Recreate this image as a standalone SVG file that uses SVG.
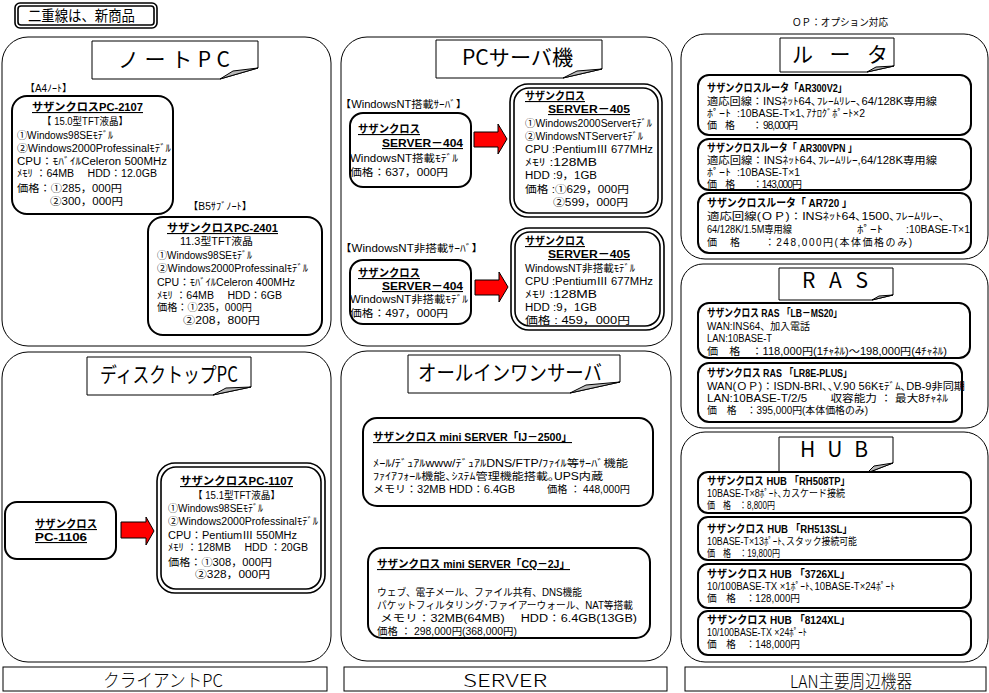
<svg xmlns="http://www.w3.org/2000/svg" width="989" height="693" viewBox="0 0 989 693">
<style>
text{font-family:"Noto Sans CJK JP","Noto Sans CJK SC",sans-serif;fill:#000}
.s{font-family:"Liberation Sans","Noto Sans CJK JP",sans-serif;font-size:10px}
.xs{font-family:"Liberation Sans","Noto Sans CJK JP",sans-serif;font-size:10px}
.bu{font-family:"Liberation Sans","Noto Sans CJK JP",sans-serif;font-size:11px;font-weight:bold;text-decoration:underline}
.bt{font-family:"Liberation Sans","Noto Sans CJK JP",sans-serif;font-size:11px;font-weight:bold}
.ttl{font-size:21px}
.ft{font-size:18px;font-weight:300}
.sec{fill:#fff;stroke:#000;stroke-width:1}
.node{fill:#fff;stroke:#000;stroke-width:2}
.dbl{fill:none;stroke:#000;stroke-width:1.6}
.call{fill:#fff;stroke:#000;stroke-width:1}
.fold{fill:#b8b8b8;stroke:#000;stroke-width:1}
.box{fill:#fff;stroke:#000;stroke-width:1}
.arrow{fill:#f00;stroke:#000;stroke-width:1}
</style>
<rect width="989" height="693" fill="#fff"/>

<g id="legend">
<rect class="dbl" x="15" y="3" width="142" height="25" rx="5"/>
<rect class="dbl" x="18" y="6" width="136" height="19" rx="3"/>
<text x="28" y="21" style="font-size:15px" textLength="107" lengthAdjust="spacingAndGlyphs">二重線は、新商品</text>
</g>

<!-- ===== Client PC column ===== -->
<g id="sec-note">
<rect class="sec" x="2" y="37" width="329" height="309" rx="26"/>
<path class="call" d="M92,41 H258 V68 L220,79 H92 Z"/>
<path class="fold" d="M220,79 L233,71 L258,68 Z"/>
<text class="ttl" x="118" y="67" textLength="112" lengthAdjust="spacing">ノートPC</text>
</g>

<g id="label-a4"><text class="s" x="25" y="92" textLength="47" lengthAdjust="spacingAndGlyphs">【A4ﾉｰﾄ】</text></g>
<g id="node-pc2107">
<rect class="node" x="12" y="96" width="161" height="118" rx="15"/>
<text class="bu" x="32" y="111" textLength="111" lengthAdjust="spacingAndGlyphs">サザンクロスPC-2107</text>
<text class="s" x="42" y="125" textLength="86" lengthAdjust="spacingAndGlyphs">【 15.0型TFT液晶】</text>
<text class="s" x="17" y="139" textLength="96" lengthAdjust="spacingAndGlyphs">①Windows98SEﾓﾃﾞﾙ</text>
<text class="s" x="17" y="152" textLength="154" lengthAdjust="spacingAndGlyphs">②Windows2000Professinalﾓﾃﾞﾙ</text>
<text class="s" x="17" y="165" textLength="150" lengthAdjust="spacingAndGlyphs">CPU：ﾓﾊﾞｲﾙCeleron 500MHz</text>
<text class="s" x="17" y="177" textLength="140" lengthAdjust="spacingAndGlyphs">ﾒﾓﾘ ：64MB　 HDD：12.0GB</text>
<text class="s" x="17" y="192" textLength="105" lengthAdjust="spacingAndGlyphs">価格：①285，000円</text>
<text class="s" x="50" y="205" textLength="73" lengthAdjust="spacingAndGlyphs">②300，000円</text>
</g>

<g id="label-b5"><text class="s" x="188" y="210" textLength="64" lengthAdjust="spacingAndGlyphs">【B5ｻﾌﾞﾉｰﾄ】</text></g>
<g id="node-pc2401">
<rect class="node" x="148" y="217" width="174" height="118" rx="15"/>
<text class="bu" x="167" y="232" textLength="111" lengthAdjust="spacingAndGlyphs">サザンクロスPC-2401</text>
<text class="s" x="180" y="245" textLength="73" lengthAdjust="spacingAndGlyphs">11.3型TFT液晶</text>
<text class="s" x="157" y="259" textLength="95" lengthAdjust="spacingAndGlyphs">①Windows98SEﾓﾃﾞﾙ</text>
<text class="s" x="157" y="272" textLength="151" lengthAdjust="spacingAndGlyphs">②Windows2000Professinalﾓﾃﾞﾙ</text>
<text class="s" x="157" y="286" textLength="138" lengthAdjust="spacingAndGlyphs">CPU：ﾓﾊﾞｲﾙCeleron 400MHz</text>
<text class="s" x="157" y="299" textLength="125" lengthAdjust="spacingAndGlyphs">ﾒﾓﾘ ：64MB　 HDD：6GB</text>
<text class="s" x="157" y="311" textLength="95" lengthAdjust="spacingAndGlyphs">価格：①235，000円</text>
<text class="s" x="183" y="324" textLength="77" lengthAdjust="spacingAndGlyphs">②208，800円</text>
</g>

<g id="sec-desktop">
<rect class="sec" x="2" y="352" width="329" height="310" rx="26"/>
<path class="call" d="M87,357 H251 V387 L213,395 H87 Z"/>
<path class="fold" d="M213,395 L226,388 L251,387 Z"/>
<text class="ttl" x="100" y="382" textLength="138" lengthAdjust="spacingAndGlyphs">ディスクトップPC</text>
</g>

<g id="node-pc1106">
<rect class="node" x="5" y="502" width="111" height="57" rx="12"/>
<text class="bu" x="35" y="528" textLength="62" lengthAdjust="spacingAndGlyphs">サザンクロス</text>
<text class="bu" x="35" y="541" textLength="52" lengthAdjust="spacingAndGlyphs">PC-1106</text>
</g>

<g id="node-pc1107">
<rect class="dbl" x="157" y="463" width="168" height="130" rx="18"/>
<rect class="dbl" x="161" y="467" width="160" height="122" rx="15"/>
<text class="bu" x="180" y="485" textLength="113" lengthAdjust="spacingAndGlyphs">サザンクロスPC-1107</text>
<text class="s" x="193" y="499" textLength="87" lengthAdjust="spacingAndGlyphs">【 15.1型TFT液晶】</text>
<text class="s" x="168" y="512" textLength="95" lengthAdjust="spacingAndGlyphs">①Windows98SEﾓﾃﾞﾙ</text>
<text class="s" x="168" y="525" textLength="150" lengthAdjust="spacingAndGlyphs">②Windows2000Professinalﾓﾃﾞﾙ</text>
<text class="s" x="168" y="539" textLength="129" lengthAdjust="spacingAndGlyphs">CPU：PentiumⅢ 550MHz</text>
<text class="s" x="168" y="551" textLength="140" lengthAdjust="spacingAndGlyphs">ﾒﾓﾘ ：128MB　 HDD ：20GB</text>
<text class="s" x="168" y="566" textLength="104" lengthAdjust="spacingAndGlyphs">価格：①308，000円</text>
<text class="s" x="195" y="578" textLength="75" lengthAdjust="spacingAndGlyphs">②328，000円</text>
</g>

<g id="footer-client">
<rect class="box" x="3" y="667" width="324" height="24"/>
<text class="ft" x="103" y="687" textLength="120" lengthAdjust="spacingAndGlyphs">クライアントPC</text>
</g>

<!-- ===== Server column ===== -->
<g id="sec-pcserver">
<rect class="sec" x="341" y="37" width="331" height="309" rx="26"/>
<path class="call" d="M436,40 H602 V69 L563,78 H436 Z"/>
<path class="fold" d="M563,78 L577,71 L602,69 Z"/>
<text class="ttl" x="462" y="65" textLength="111" lengthAdjust="spacingAndGlyphs">PCサーバ機</text>
</g>

<g id="label-nt"><text class="s" x="340" y="108" textLength="127" lengthAdjust="spacingAndGlyphs">【WindowsNT搭載ｻｰﾊﾞ】</text></g>
<g id="node-server404a">
<rect class="node" x="350" y="113" width="121" height="74" rx="13"/>
<text class="bu" x="358" y="133" textLength="62" lengthAdjust="spacingAndGlyphs">サザンクロス</text>
<text class="bu" x="382" y="147" textLength="81" lengthAdjust="spacingAndGlyphs">SERVER－404</text>
<text class="s" x="350" y="162" textLength="108" lengthAdjust="spacingAndGlyphs">WindowsNT搭載ﾓﾃﾞﾙ</text>
<text class="s" x="350" y="176" textLength="98" lengthAdjust="spacingAndGlyphs">価格：637，000円</text>
</g>
<g id="node-server405a">
<rect class="dbl" x="510" y="84" width="152" height="133" rx="18"/>
<rect class="dbl" x="514" y="88" width="144" height="125" rx="15"/>
<text class="bu" x="525" y="100" textLength="60" lengthAdjust="spacingAndGlyphs">サザンクロス</text>
<text class="bu" x="548" y="113" textLength="82" lengthAdjust="spacingAndGlyphs">SERVER－405</text>
<text class="s" x="525" y="127" textLength="127" lengthAdjust="spacingAndGlyphs">①Windows2000Serverﾓﾃﾞﾙ</text>
<text class="s" x="525" y="140" textLength="118" lengthAdjust="spacingAndGlyphs">②WindowsNTServerﾓﾃﾞﾙ</text>
<text class="s" x="525" y="153" textLength="128" lengthAdjust="spacingAndGlyphs">CPU :PentiumⅢ 677MHz</text>
<text class="s" x="525" y="166" textLength="72" lengthAdjust="spacingAndGlyphs">ﾒﾓﾘ :128MB</text>
<text class="s" x="525" y="179" textLength="72" lengthAdjust="spacingAndGlyphs">HDD :9，1GB</text>
<text class="s" x="525" y="193" textLength="104" lengthAdjust="spacingAndGlyphs">価格 :①629，000円</text>
<text class="s" x="553" y="206" textLength="75" lengthAdjust="spacingAndGlyphs">②599，000円</text>
</g>

<g id="label-nonnt"><text class="s" x="340" y="252" textLength="143" lengthAdjust="spacingAndGlyphs">【WindowsNT非搭載ｻｰﾊﾞ】</text></g>
<g id="node-server404b">
<rect class="node" x="350" y="260" width="121" height="64" rx="13"/>
<text class="bu" x="358" y="277" textLength="62" lengthAdjust="spacingAndGlyphs">サザンクロス</text>
<text class="bu" x="382" y="290" textLength="81" lengthAdjust="spacingAndGlyphs">SERVER－404</text>
<text class="s" x="350" y="303" textLength="118" lengthAdjust="spacingAndGlyphs">WindowsNT非搭載ﾓﾃﾞﾙ</text>
<text class="s" x="350" y="317" textLength="98" lengthAdjust="spacingAndGlyphs">価格：497，000円</text>
</g>
<g id="node-server405b">
<rect class="dbl" x="511" y="228" width="153" height="102" rx="18"/>
<rect class="dbl" x="515" y="232" width="145" height="94" rx="15"/>
<text class="bu" x="525" y="245" textLength="60" lengthAdjust="spacingAndGlyphs">サザンクロス</text>
<text class="bu" x="548" y="258" textLength="82" lengthAdjust="spacingAndGlyphs">SERVER－405</text>
<text class="s" x="525" y="272" textLength="110" lengthAdjust="spacingAndGlyphs">WindowsNT非搭載ﾓﾃﾞﾙ</text>
<text class="s" x="525" y="285" textLength="128" lengthAdjust="spacingAndGlyphs">CPU :PentiumⅢ 677MHz</text>
<text class="s" x="525" y="298" textLength="72" lengthAdjust="spacingAndGlyphs">ﾒﾓﾘ :128MB</text>
<text class="s" x="525" y="311" textLength="72" lengthAdjust="spacingAndGlyphs">HDD :9，1GB</text>
<text class="s" x="525" y="324" textLength="105" lengthAdjust="spacingAndGlyphs">価格 : 459，000円</text>
</g>

<g id="sec-allinone">
<rect class="sec" x="341" y="351" width="330" height="310" rx="26"/>
<path class="call" d="M408,355 H620 V382 L570,393 H408 Z"/>
<path class="fold" d="M570,393 L586,385 L620,382 Z"/>
<text class="ttl" x="418" y="380" textLength="184" lengthAdjust="spacingAndGlyphs">オールインワンサーバ</text>
</g>

<g id="node-ij2500">
<rect class="node" x="363" y="418" width="290" height="88" rx="14"/>
<text class="bu" x="373" y="441" textLength="199" lengthAdjust="spacingAndGlyphs">サザンクロス mini SERVER「IJ－2500」</text>
<text class="s" x="373" y="467" textLength="255" lengthAdjust="spacingAndGlyphs">ﾒｰﾙ/ﾃﾞｭｱﾙwww/ﾃﾞｭｱﾙDNS/FTP/ﾌｧｲﾙ等ｻｰﾊﾞ機能</text>
<text class="s" x="373" y="480" textLength="230" lengthAdjust="spacingAndGlyphs">ﾌｧｲｱﾌｫｰﾙ機能､ｼｽﾃﾑ管理機能搭載｡UPS内蔵</text>
<text class="s" x="373" y="493" textLength="142" lengthAdjust="spacingAndGlyphs">メモリ：32MB  HDD：6.4GB</text>
<text class="s" x="547" y="493" textLength="83" lengthAdjust="spacingAndGlyphs">価格 ： 448,000円</text>
</g>
<g id="node-cq2j">
<rect class="node" x="368" y="548" width="282" height="90" rx="14"/>
<text class="bu" x="377" y="568" textLength="193" lengthAdjust="spacingAndGlyphs">サザンクロス mini SERVER「CQ－2J」</text>
<text class="s" x="377" y="596" textLength="205" lengthAdjust="spacingAndGlyphs">ウェブ、電子メール、ファイル共有、DNS機能</text>
<text class="s" x="377" y="609" textLength="256" lengthAdjust="spacingAndGlyphs">パケットフィルタリング･ファイアーウォール、NAT等搭載</text>
<text class="s" x="380" y="622" textLength="257" lengthAdjust="spacingAndGlyphs">メモリ：32MB(64MB)　 HDD：6.4GB(13GB)</text>
<text class="s" x="377" y="635" textLength="140" lengthAdjust="spacingAndGlyphs">価格 ： 298,000円(368,000円)</text>
</g>

<g id="footer-server">
<rect class="box" x="344" y="667" width="323" height="24"/>
<text class="ft" x="463" y="687" textLength="84" lengthAdjust="spacingAndGlyphs">SERVER</text>
</g>

<!-- ===== LAN column ===== -->
<g id="note-op"><text class="xs" x="792" y="26" textLength="96" lengthAdjust="spacingAndGlyphs">ＯＰ：オプション対応</text></g>

<g id="sec-router">
<rect class="sec" x="681" y="34" width="307" height="225" rx="24"/>
<path class="call" d="M780,38 H894 V66 L867,72 H780 Z"/>
<path class="fold" d="M867,72 L876,67 L894,66 Z"/>
<text class="ttl" x="792" y="62" textLength="96" lengthAdjust="spacing">ル ー タ</text>
</g>
<g id="node-ar300v2">
<rect class="node" x="698" y="75" width="273" height="60" rx="11"/>
<text class="bt" x="707" y="92" textLength="140" lengthAdjust="spacingAndGlyphs">サザンクロスルータ「AR300V2」</text>
<text class="s" x="707" y="105" textLength="230" lengthAdjust="spacingAndGlyphs">適応回線：INSﾈｯﾄ64､ﾌﾚｰﾑﾘﾚｰ､64/128K専用線</text>
<text class="s" x="707" y="117" textLength="24" lengthAdjust="spacingAndGlyphs">ﾎﾟｰﾄ</text>
<text class="s" x="737" y="117" textLength="128" lengthAdjust="spacingAndGlyphs">:10BASE-T×1､ｱﾅﾛｸﾞﾎﾟｰﾄ×2</text>
<text class="s" x="707" y="129" textLength="91" lengthAdjust="spacing">価　格　　： 98,000円</text>
</g>
<g id="node-ar300vpn">
<rect class="node" x="698" y="139" width="273" height="51" rx="11"/>
<text class="bt" x="707" y="152" textLength="150" lengthAdjust="spacingAndGlyphs">サザンクロスルータ「 AR300VPN 」</text>
<text class="s" x="707" y="164" textLength="230" lengthAdjust="spacingAndGlyphs">適応回線：INSﾈｯﾄ64､ﾌﾚｰﾑﾘﾚｰ,64/128K専用線</text>
<text class="s" x="707" y="176" textLength="24" lengthAdjust="spacingAndGlyphs">ﾎﾟｰﾄ</text>
<text class="s" x="737" y="176" textLength="63" lengthAdjust="spacingAndGlyphs">:10BASE-T×1</text>
<text class="s" x="707" y="188" textLength="95" lengthAdjust="spacing">価　格　　：143,000円</text>
</g>
<g id="node-ar720">
<rect class="node" x="698" y="193" width="273" height="60" rx="11"/>
<text class="bt" x="707" y="207" textLength="145" lengthAdjust="spacingAndGlyphs">サザンクロスルータ「 AR720 」</text>
<text class="s" x="707" y="220" textLength="238" lengthAdjust="spacingAndGlyphs">適応回線(ＯＰ)：INSﾈｯﾄ64､1500､ﾌﾚｰﾑﾘﾚｰ､</text>
<text class="s" x="707" y="233" textLength="85" lengthAdjust="spacingAndGlyphs">64/128K/1.5M専用線</text>
<text class="s" x="857" y="233" textLength="26" lengthAdjust="spacingAndGlyphs">ﾎﾟｰﾄ</text>
<text class="s" x="906" y="233" textLength="64" lengthAdjust="spacingAndGlyphs">:10BASE-T×1</text>
<text class="s" x="707" y="246" textLength="205" lengthAdjust="spacing">価　格　　：248,000円(本体価格のみ)</text>
</g>

<g id="sec-ras">
<rect class="sec" x="681" y="264" width="307" height="164" rx="22"/>
<path class="call" d="M779,268 H893 V295 L872,300 H779 Z"/>
<path class="fold" d="M872,300 L879,296 L893,295 Z"/>
<text class="ttl" x="802" y="288" textLength="66" lengthAdjust="spacing">R A S</text>
</g>
<g id="node-lbms20">
<rect class="node" x="698" y="303" width="272" height="55" rx="11"/>
<text class="bt" x="707" y="317" textLength="135" lengthAdjust="spacingAndGlyphs">サザンクロス RAS 「LB－MS20」</text>
<text class="s" x="707" y="330" textLength="103" lengthAdjust="spacingAndGlyphs">WAN:INS64、加入電話</text>
<text class="s" x="707" y="342" textLength="65" lengthAdjust="spacingAndGlyphs">LAN:10BASE-T</text>
<text class="s" x="707" y="355" textLength="240" lengthAdjust="spacingAndGlyphs">価　格　：118,000円(1ﾁｬﾈﾙ)～198,000円(4ﾁｬﾈﾙ)</text>
</g>
<g id="node-lr8eplus">
<rect class="node" x="698" y="363" width="264" height="59" rx="11"/>
<text class="bt" x="707" y="377" textLength="145" lengthAdjust="spacingAndGlyphs">サザンクロス RAS 「LR8E-PLUS」</text>
<text class="s" x="707" y="390" textLength="258" lengthAdjust="spacingAndGlyphs">WAN(ＯＰ)：ISDN-BRI､､V.90 56Kﾓﾃﾞﾑ､DB-9非同期</text>
<text class="s" x="707" y="402" textLength="241" lengthAdjust="spacingAndGlyphs">LAN:10BASE-T/2/5　　収容能力 ： 最大8ﾁｬﾈﾙ</text>
<text class="s" x="707" y="414" textLength="161" lengthAdjust="spacingAndGlyphs">価　格　：395,000円(本体価格のみ)</text>
</g>

<g id="sec-hub">
<rect class="sec" x="681" y="432" width="307" height="230" rx="24"/>
<path class="call" d="M779,437 H893 V463 L867,473 H779 Z"/>
<path class="fold" d="M867,473 L874,466 L893,463 Z"/>
<text class="ttl" x="800" y="457" textLength="68" lengthAdjust="spacing">H U B</text>
</g>
<g id="node-rh508tp">
<rect class="node" x="698" y="472" width="273" height="41" rx="10"/>
<text class="bt" x="707" y="485" textLength="143" lengthAdjust="spacingAndGlyphs">サザンクロス HUB 「RH508TP」</text>
<text class="s" x="707" y="497" textLength="138" lengthAdjust="spacingAndGlyphs">10BASE-T×8ﾎﾟｰﾄ､カスケード接続</text>
<text class="s" x="707" y="509" textLength="68" lengthAdjust="spacingAndGlyphs">価　格　：8,800円</text>
</g>
<g id="node-rh513sl">
<rect class="node" x="698" y="517" width="273" height="43" rx="10"/>
<text class="bt" x="707" y="533" textLength="145" lengthAdjust="spacingAndGlyphs">サザンクロス HUB 「RH513SL」</text>
<text class="s" x="707" y="545" textLength="150" lengthAdjust="spacingAndGlyphs">10BASE-T×13ﾎﾟｰﾄ､スタック接続可能</text>
<text class="s" x="707" y="557" textLength="73" lengthAdjust="spacingAndGlyphs">価　格　：19,800円</text>
</g>
<g id="node-3726xl">
<rect class="node" x="698" y="564" width="273" height="44" rx="10"/>
<text class="bt" x="707" y="578" textLength="143" lengthAdjust="spacingAndGlyphs">サザンクロス HUB 「3726XL」</text>
<text class="s" x="707" y="590" textLength="188" lengthAdjust="spacingAndGlyphs">10/100BASE-TX ×1ﾎﾟｰﾄ､10BASE-T×24ﾎﾟｰﾄ</text>
<text class="s" x="707" y="602" textLength="93" lengthAdjust="spacingAndGlyphs">価　格　：128,000円</text>
</g>
<g id="node-8124xl">
<rect class="node" x="698" y="611" width="273" height="44" rx="10"/>
<text class="bt" x="707" y="624" textLength="143" lengthAdjust="spacingAndGlyphs">サザンクロス HUB 「8124XL」</text>
<text class="s" x="707" y="636" textLength="100" lengthAdjust="spacingAndGlyphs">10/100BASE-TX ×24ﾎﾟｰﾄ</text>
<text class="s" x="707" y="648" textLength="93" lengthAdjust="spacingAndGlyphs">価　格　：148,000円</text>
</g>

<g id="footer-lan">
<rect class="box" x="685" y="667" width="301" height="24"/>
<text class="ft" x="790" y="688" textLength="122" lengthAdjust="spacingAndGlyphs">LAN主要周辺機器</text>
</g>

<g id="connectors">
<polygon class="arrow" points="121,522 146,522 146,517 154,531 146,545 146,538 121,538"/>
<polygon class="arrow" points="474,132 498,132 498,124 507,139 498,154 498,147 474,147"/>
<polygon class="arrow" points="475,280 499,280 499,272 508,287 499,302 499,295 475,295"/>
</g>
</svg>
